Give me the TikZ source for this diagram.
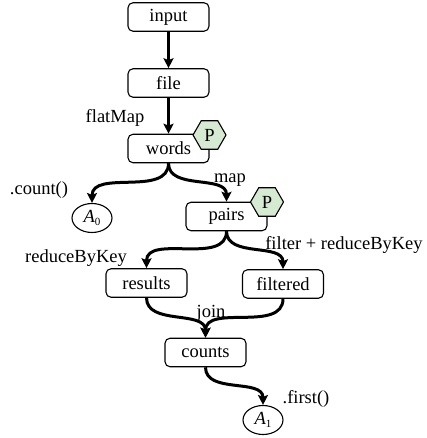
\documentclass[tikz,border=0pt]{standalone}
\usepackage{fontspec}
\setmainfont{Liberation Serif}
\usetikzlibrary{arrows.meta,shapes.geometric}
\definecolor{pgreen}{RGB}{214,233,210}
\newcommand{\actlabel}[1]{\textit{A}\raisebox{-0.35ex}{\fontsize{11}{12}\selectfont #1}}
\begin{document}
\begin{tikzpicture}[x=1pt,y=-1pt,
  font=\fontsize{18.5}{20}\selectfont,
  rdd/.style={draw,line width=1.1pt,rounded corners=5pt,minimum width=81pt,minimum height=28.5pt,inner sep=0pt},
  act/.style={draw,line width=1.1pt,ellipse,minimum width=40pt,minimum height=29pt,inner sep=0pt},
  hexa/.style={draw,line width=1.1pt,fill=pgreen,regular polygon,regular polygon sides=6,shape border rotate=0,minimum size=33pt,inner sep=0pt},
  flow/.style={line width=3pt,-{Stealth[length=10pt,width=10pt,inset=2pt]}},
  lbl/.style={inner sep=0pt}]
\useasboundingbox (0,0) rectangle (427,438);

% datasets
\node[rdd] (input) at (168.5,17) {input};
\node[rdd] (file) at (168.5,83) {file};
\node[rdd] (words) at (168.5,148.5) {words};
\node[rdd] (pairs) at (226.5,216.5) {pairs};
\node[rdd] (results) at (146.5,283) {results};
\node[rdd] (filtered) at (283,284) {filtered};
\node[rdd] (counts) at (205.5,352.5) {counts};

% actions
\node[act] (a0) at (92,218) {\actlabel{0}};
\node[act] (a1) at (263,420) {\actlabel{1}};

% persisted markers
\node[hexa] (p1) at (209.5,135) {P};
\node[hexa] (p2) at (267,202) {P};

% operations
\draw[flow] (input) -- (file);
\draw[flow] (file) -- (words);
\draw[flow] (words.south) to[out=-90,in=90] (a0.north);
\draw[flow] (words.south) to[out=-90,in=90] (pairs.north);
\draw[flow] (pairs.south) to[out=-90,in=90] (results.north);
\draw[flow] (pairs.south) to[out=-90,in=90] (filtered.north);
\draw[flow] (results.south) to[out=-90,in=90] (counts.north);
\draw[flow] (filtered.south) to[out=-90,in=90] (counts.north);
\draw[flow] (counts.south) to[out=-90,in=90] (a1.north);

% labels
\node[lbl] (lflat) at (115,118) {flatMap};
\node[lbl] (lcount) at (39,190) {.count()};
\node[lbl] (lmap) at (230,180) {map};
\node[lbl] (lfilter) at (344,245) {filter + reduceByKey};
\node[lbl] (lreduce) at (76,258) {reduceByKey};
\node[lbl] (ljoin) at (211,313) {join};
\node[lbl] (lfirst) at (306,399) {.first()};
\end{tikzpicture}
\end{document}
